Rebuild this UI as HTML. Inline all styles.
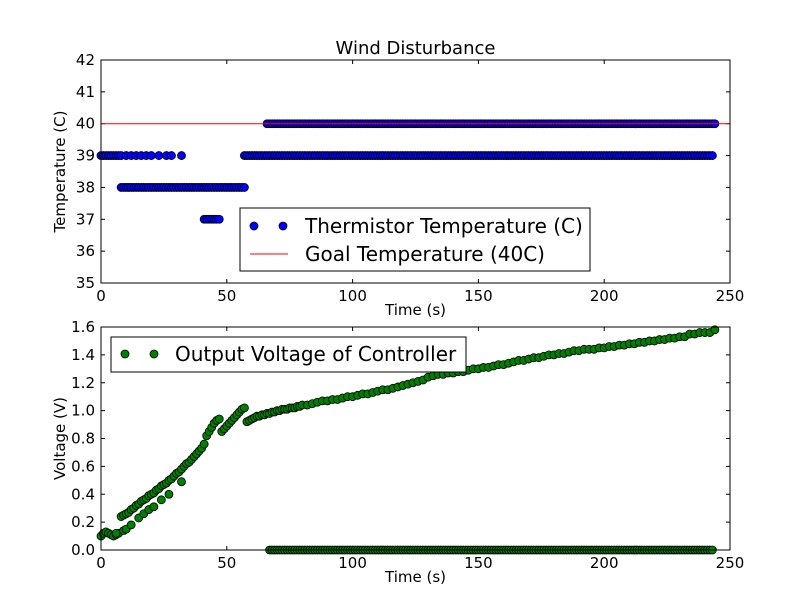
<!DOCTYPE html>
<html><head><meta charset="utf-8"><style>
body{margin:0;background:#fff;}
svg{display:block;font-family:"DejaVu Sans","Liberation Sans",sans-serif;}
</style></head><body>
<svg id="c" width="812" height="612" viewBox="0 0 812 612"></svg>
<script>
// ---- data ----
const xTicks=[0,50,100,150,200,250];
const tempTicks=[35,36,37,38,39,40,41,42];
const voltTicks=[0.0,0.2,0.4,0.6,0.8,1.0,1.2,1.4,1.6];
const t39=[0,1,2,3,4,5,6,7,8,10,12,14,16,18,20,23,26,28,32,57,58,59,60,61,62,63,64,65,66,67,68,69,70,71,72,73,74,75,76,77,78,79,80,81,82,83,84,85,86,87,88,89,90,91,92,93,94,95,96,97,98,99,100,101,102,103,104,105,106,107,108,109,110,111,112,113,114,115,116,117,118,119,120,121,122,123,124,125,126,127,128,129,130,131,132,133,134,135,136,137,138,139,140,141,142,143,144,145,146,147,148,149,150,151,152,153,154,155,156,157,158,159,160,161,162,163,164,165,166,167,168,169,170,171,172,173,174,175,176,177,178,179,180,181,182,183,184,185,186,187,188,189,190,191,192,193,194,195,196,197,198,199,200,201,202,203,204,205,206,207,208,209,210,211,212,213,214,215,216,217,218,219,220,221,222,223,224,225,226,227,228,229,230,231,232,233,234,235,236,237,238,239,240,241,242,243];
const t38=[8,9,10,11,12,13,14,15,16,17,18,19,20,21,22,23,24,25,26,27,28,29,30,31,32,33,34,35,36,37,38,39,40,41,42,43,44,45,46,47,48,49,50,51,52,53,54,55,56,57];
const t37=[41,42,43,44,45,46,47];
const t40=[66,67,68,69,70,71,72,73,74,75,76,77,78,79,80,81,82,83,84,85,86,87,88,89,90,91,92,93,94,95,96,97,98,99,100,101,102,103,104,105,106,107,108,109,110,111,112,113,114,115,116,117,118,119,120,121,122,123,124,125,126,127,128,129,130,131,132,133,134,135,136,137,138,139,140,141,142,143,144,145,146,147,148,149,150,151,152,153,154,155,156,157,158,159,160,161,162,163,164,165,166,167,168,169,170,171,172,173,174,175,176,177,178,179,180,181,182,183,184,185,186,187,188,189,190,191,192,193,194,195,196,197,198,199,200,201,202,203,204,205,206,207,208,209,210,211,212,213,214,215,216,217,218,219,220,221,222,223,224,225,226,227,228,229,230,231,232,233,234,235,236,237,238,239,240,241,242,243,244];
const goalTemp=40;
const voltTimes=[0,1,2,3,4,5,6,7,8,9,10,11,12,13,14,15,16,17,18,19,20,21,22,23,24,25,26,27,28,29,30,31,32,33,34,35,36,37,38,39,40,41,42,43,44,45,46,47,48,49,50,51,52,53,54,55,56,57,
58,59,60,61,62,63,64,65,66,67,68,69,70,71,72,73,74,75,76,77,78,79,
80,82,84,86,88,90,92,94,96,98,100,102,104,106,108,110,112,114,116,118,120,122,124,126,128,130,132,134,136,138,140,142,144,146,148,150,152,154,156,158,160,162,164,166,168,170,172,174,176,178,180,182,184,186,188,190,192,194,196,198,200,202,204,206,208,210,212,214,216,218,220,222,224,226,228,230,232,234,236,238,240,242,244,
6,9,10,12,15,17,19,21,24,27,32];
const voltVals=[0.10,0.12,0.13,0.12,0.11,0.10,0.11,0.12,0.24,0.25,0.26,0.27,0.29,0.30,0.32,0.33,0.35,0.36,0.37,0.39,0.40,0.41,0.43,0.44,0.46,0.47,0.48,0.50,0.51,0.53,0.55,0.56,0.58,0.60,0.62,0.63,0.65,0.67,0.69,0.71,0.73,0.76,0.82,0.85,0.88,0.91,0.93,0.94,0.85,0.87,0.89,0.91,0.93,0.95,0.97,0.99,1.01,1.02,
0.92,0.93,0.94,0.95,0.96,0.96,0.97,0.97,0.98,0.98,0.99,0.99,1.00,1.00,1.01,1.01,1.01,1.02,1.02,1.02,1.03,1.03,
1.04,1.04,1.05,1.06,1.07,1.07,1.08,1.08,1.09,1.10,1.10,1.11,1.12,1.12,1.13,1.14,1.15,1.15,1.16,1.17,1.18,1.19,1.20,1.21,1.22,1.24,1.25,1.26,1.26,1.27,1.27,1.28,1.28,1.29,1.30,1.30,1.31,1.31,1.32,1.33,1.33,1.34,1.35,1.36,1.36,1.37,1.38,1.38,1.39,1.40,1.40,1.41,1.41,1.42,1.43,1.43,1.44,1.44,1.44,1.45,1.45,1.46,1.46,1.47,1.47,1.48,1.48,1.49,1.49,1.50,1.50,1.51,1.51,1.52,1.52,1.53,1.53,1.55,1.55,1.56,1.56,1.56,1.58,
0.12,0.14,0.15,0.18,0.23,0.26,0.29,0.31,0.36,0.40,0.49];
const zeroTimes=[67,68,69,70,71,72,73,74,75,76,77,78,79,80,81,82,83,84,85,86,87,88,89,90,91,92,93,94,95,96,97,98,99,100,101,102,103,104,105,106,107,108,109,110,111,112,113,114,115,116,117,118,119,120,121,122,123,124,125,126,127,128,129,130,131,132,133,134,135,136,137,138,139,140,141,142,143,144,145,146,147,148,149,150,151,152,153,154,155,156,157,158,159,160,161,162,163,164,165,166,167,168,169,170,171,172,173,174,175,176,177,178,179,180,181,182,183,184,185,186,187,188,189,190,191,192,193,194,195,196,197,198,199,200,201,202,203,204,205,206,207,208,209,210,211,212,213,214,215,216,217,218,219,220,221,222,223,224,225,226,227,228,229,230,231,232,233,234,235,236,237,238,239,240,241,242,243];

// ---- layout ----
const NS="http://www.w3.org/2000/svg";
const svg=document.getElementById('c');
function el(tag,attrs,parent){const e=document.createElementNS(NS,tag);for(const k in attrs)e.setAttribute(k,attrs[k]);(parent||svg).appendChild(e);return e;}
const X0=101,X1=730;
const xs=v=>X0+(v-0)/(250-0)*(X1-X0);
const pTop={y0:60,y1:283,min:35,max:42};
const pBot={y0:327,y1:550,min:0,max:1.6};
const ys=(p,v)=>p.y1-(v-p.min)/(p.max-p.min)*(p.y1-p.y0);

function axes(p,yt,fmt,ylabel,name){
  const g=el('g',{});
  
  
  el('rect',{x:X0,y:p.y0,width:X1-X0,height:p.y1-p.y0,fill:'#fff',stroke:'none'},g);
  xTicks.forEach(t=>{
    const x=xs(t);
    el('line',{x1:x,x2:x,y1:p.y1,y2:p.y1-4,stroke:'#000'},g);
    el('line',{x1:x,x2:x,y1:p.y0,y2:p.y0+4,stroke:'#000'},g);
    const tx=el('text',{x:x,y:p.y1+18,'text-anchor':'middle','font-size':15},g);
    tx.textContent=t;
    
    
  });
  yt.forEach(t=>{
    const y=ys(p,t);
    el('line',{x1:X0,x2:X0+4,y1:y,y2:y,stroke:'#000'},g);
    el('line',{x1:X1,x2:X1-4,y1:y,y2:y,stroke:'#000'},g);
    const tx=el('text',{x:X0-6,y:y+5,'text-anchor':'end','font-size':15},g);
    tx.textContent=fmt(t);
    
    
  });
  const xl=el('text',{x:(X0+X1)/2,y:p.y1+32,'text-anchor':'middle','font-size':15},g);
  xl.textContent='Time (s)';
  
  
  const cy=(p.y0+p.y1)/2;
  const yl=el('text',{x:65,y:cy,'text-anchor':'middle','font-size':15,transform:`rotate(-90 65 ${cy})`},g);
  yl.textContent=ylabel;
  
  
  return g;
}
function dot(g,x,y,fill,name){
  const c=el('circle',{cx:x,cy:y,r:4,fill:fill,stroke:'#000','stroke-width':0.8},g);
  
  
}

const ti=el('text',{x:(X0+X1)/2,y:54,'text-anchor':'middle','font-size':18});
ti.textContent='Wind Disturbance';



axes(pTop,tempTicks,v=>v,'Temperature (C)','temperature-axes');
const gT=el('g',{});


[[t39,39],[t38,38],[t37,37],[t40,40]].forEach(([arr,v])=>arr.forEach(t=>dot(gT,xs(t),ys(pTop,v),'#0000ff','temp-point')));
const goal=el('line',{x1:X0,x2:X1,y1:ys(pTop,goalTemp),y2:ys(pTop,goalTemp),stroke:'#ff0000','stroke-width':1});


el('rect',{x:X0,y:pTop.y0,width:X1-X0,height:pTop.y1-pTop.y0,fill:'none',stroke:'#000'});

const lg1=el('g',{});


el('rect',{x:240,y:208,width:350,height:63,fill:'#fff',stroke:'#000'},lg1);
dot(lg1,254,226,'#0000ff','legend-marker');dot(lg1,283,226,'#0000ff','legend-marker');
let lt=el('text',{x:305,y:233,'font-size':20},lg1);lt.textContent='Thermistor Temperature (C)';


el('line',{x1:250,x2:288,y1:254,y2:254,stroke:'#ff0000'},lg1);
lt=el('text',{x:305,y:261,'font-size':20},lg1);lt.textContent='Goal Temperature (40C)';



axes(pBot,voltTicks,v=>v.toFixed(1),'Voltage (V)','voltage-axes');
const gV=el('g',{});


zeroTimes.forEach(t=>dot(gV,xs(t),ys(pBot,0),'#008000','voltage-point'));
voltTimes.forEach((t,i)=>dot(gV,xs(t),ys(pBot,voltVals[i]),'#008000','voltage-point'));
el('rect',{x:X0,y:pBot.y0,width:X1-X0,height:pBot.y1-pBot.y0,fill:'none',stroke:'#000'});

const lg2=el('g',{});


el('rect',{x:111,y:337,width:355,height:35,fill:'#fff',stroke:'#000'},lg2);
dot(lg2,125,354,'#008000','legend-marker');dot(lg2,154,354,'#008000','legend-marker');
lt=el('text',{x:175,y:361,'font-size':20},lg2);lt.textContent='Output Voltage of Controller';


</script>
</body></html>
